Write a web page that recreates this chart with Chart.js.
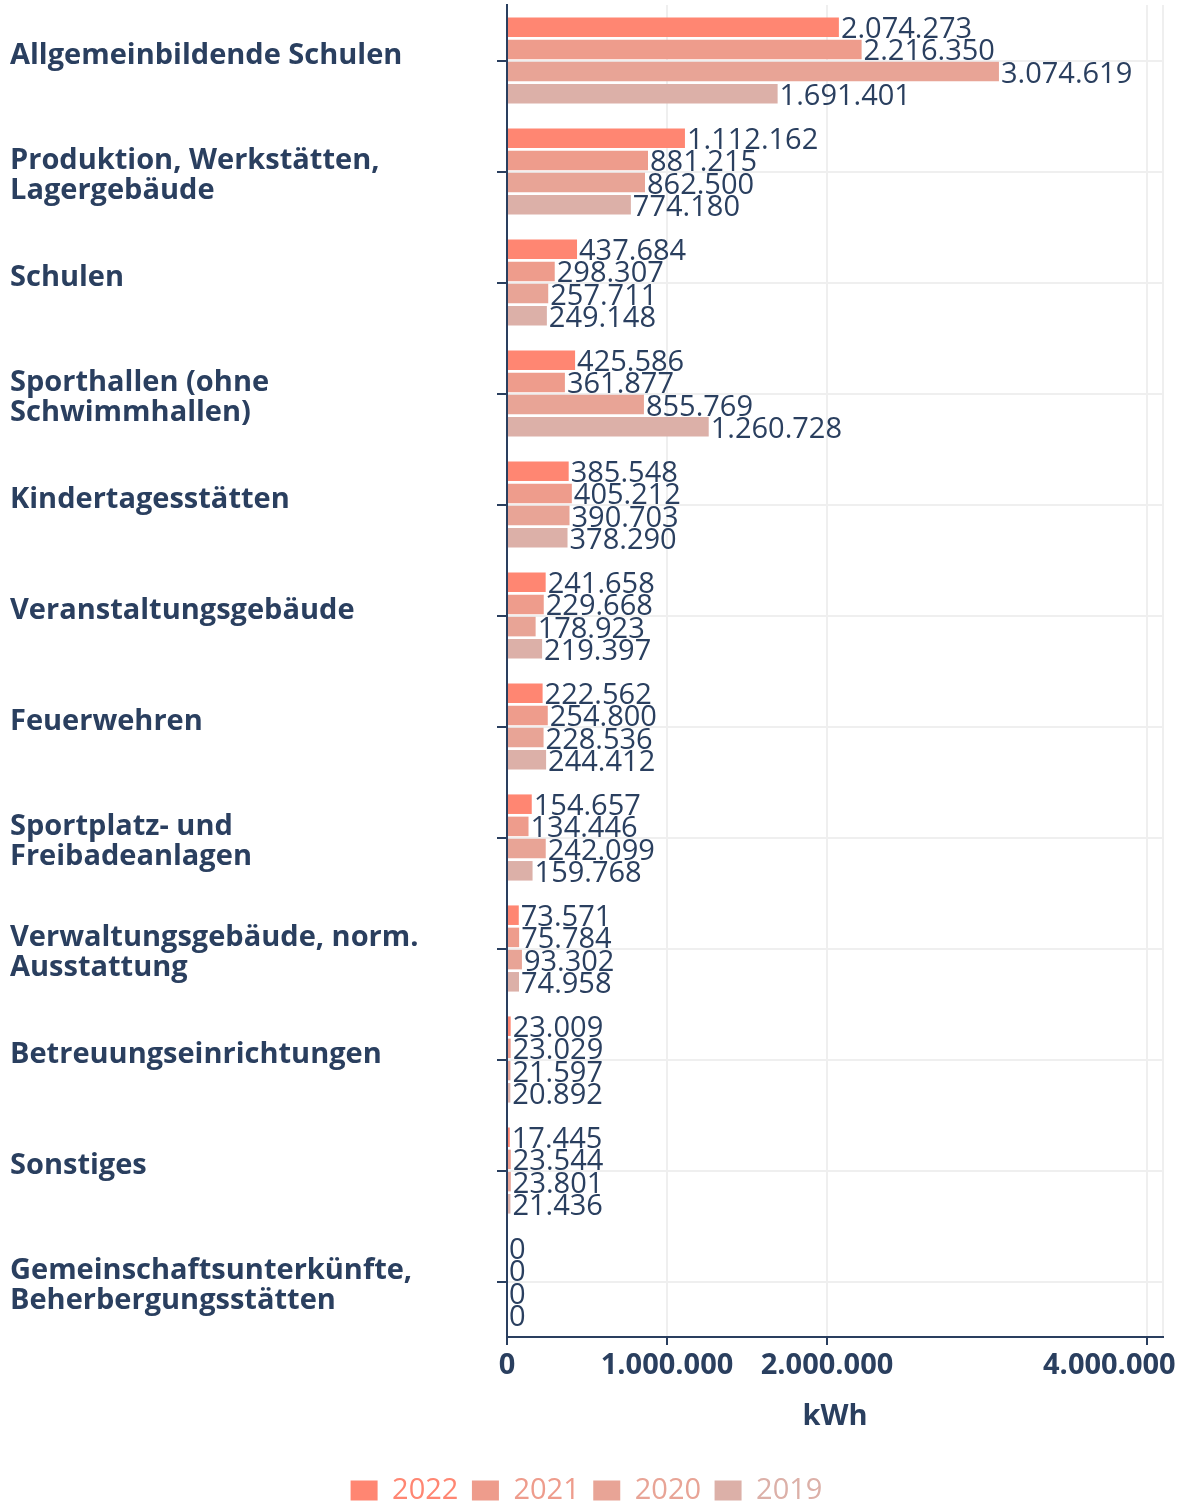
<!DOCTYPE html>
<html>
<head>
<meta charset="utf-8">
<title>Energieverbrauch nach Gebäudeart</title>
<script src="https://cdn.jsdelivr.net/npm/chart.js@4.4.0/dist/chart.umd.min.js"></script>
<style>
    html, body { margin: 0; padding: 0; background: #ffffff; }
    #wrap { width: 1185px; height: 1504px; }
</style>
</head>
<body>
<div id="wrap"><canvas id="chart" width="1185" height="1504"></canvas></div>
<script>
    // Kategorien (mehrzeilige Beschriftungen als Arrays)
    var categories = [
        'Allgemeinbildende Schulen',
        ['Produktion, Werkstätten,', 'Lagergebäude'],
        'Schulen',
        ['Sporthallen (ohne', 'Schwimmhallen)'],
        'Kindertagesstätten',
        'Veranstaltungsgebäude',
        'Feuerwehren',
        ['Sportplatz- und', 'Freibadeanlagen'],
        ['Verwaltungsgebäude, norm.', 'Ausstattung'],
        'Betreuungseinrichtungen',
        'Sonstiges',
        ['Gemeinschaftsunterkünfte,', 'Beherbergungsstätten']
    ];

    var years = ['2022', '2021', '2020', '2019'];

    var values2022 = [2074273, 1112162, 437684, 425586, 385548, 241658, 222562, 154657, 73571, 23009, 17445, 0];
    var values2021 = [2216350, 881215, 298307, 361877, 405212, 229668, 254800, 134446, 75784, 23029, 23544, 0];
    var values2020 = [3074619, 862500, 257711, 855769, 390703, 178923, 228536, 242099, 93302, 21597, 23801, 0];
    var values2019 = [1691401, 774180, 249148, 1260728, 378290, 219397, 244412, 159768, 74958, 20892, 21436, 0];

    var xTicks = [0, 1000000, 2000000, 4000000];
    var xMax = 4100000;

    var colors = ['#ff8672', '#ee9c8c', '#e8a496', '#dcb0a8'];
    var textColor = '#2a3f5f';
    var gridColor = '#efefef';
    var fontFamily = '"Open Sans", sans-serif';

    var series = [values2022, values2021, values2020, values2019];

    function formatDe(n) {
        return String(n).replace(/\B(?=(\d{3})+(?!\d))/g, '.');
    }

    // Werte rechts neben den Balken
    var valueLabels = {
        id: 'valueLabels',
        afterDatasetsDraw: function(chart) {
            var ctx = chart.ctx;
            ctx.save();
            ctx.font = '29px ' + fontFamily;
            ctx.fillStyle = textColor;
            ctx.textAlign = 'left';
            ctx.textBaseline = 'alphabetic';
            chart.data.datasets.forEach(function(ds, i) {
                chart.getDatasetMeta(i).data.forEach(function(bar, j) {
                    ctx.fillText(formatDe(ds.data[j]), bar.x + 2, bar.y + 11);
                });
            });
            ctx.restore();
        }
    };

    // einzeilige Kategorien etwas höher, zweizeilige etwas tiefer (wie im Original)
    var shiftYLabels = {
        id: 'shiftYLabels',
        beforeDraw: function(chart) {
            var items = chart.scales.y.getLabelItems();
            items.forEach(function(item) {
                if (item._shifted) {
                    return;
                }
                var lines = Array.isArray(item.label) ? item.label.length : 1;
                item.options.translation[1] += lines > 1 ? 4 : -5;
                item._shifted = true;
            });
        }
    };

    new Chart(document.getElementById('chart'), {
        type: 'bar',
        data: {
            labels: categories,
            datasets: years.map(function(year, i) {
                return {
                    label: year,
                    data: series[i],
                    backgroundColor: colors[i],
                    categoryPercentage: 0.8,
                    barPercentage: 0.88
                };
            })
        },
        options: {
            indexAxis: 'y',
            responsive: false,
            animation: false,
            devicePixelRatio: 1,
            layout: {
                padding: { left: 10, right: 22, top: 5, bottom: -11 }
            },
            plugins: {
                tooltip: { enabled: false },
                legend: {
                    position: 'bottom',
                    labels: {
                        boxWidth: 27,
                        boxHeight: 20,
                        padding: 13.5,
                        font: { family: fontFamily, size: 29 },
                        generateLabels: function(chart) {
                            return chart.data.datasets.map(function(ds, i) {
                                return {
                                    text: ds.label,
                                    fillStyle: ds.backgroundColor,
                                    strokeStyle: ds.backgroundColor,
                                    lineWidth: 0,
                                    fontColor: ds.backgroundColor,
                                    hidden: false,
                                    datasetIndex: i
                                };
                            });
                        }
                    }
                }
            },
            scales: {
                x: {
                    type: 'linear',
                    min: 0,
                    max: xMax,
                    afterBuildTicks: function(scale) {
                        scale.ticks = xTicks.concat([xMax]).map(function(v) {
                            return { value: v };
                        });
                    },
                    afterFit: function(scale) {
                        scale.height = 125.5;
                        scale.paddingLeft = 0;
                        scale.paddingRight = 0;
                    },
                    ticks: {
                        autoSkip: false,
                        maxRotation: 0,
                        padding: 3.5,
                        color: textColor,
                        font: { family: fontFamily, size: 29, weight: 'bold' },
                        callback: function(v) {
                            if (v === xMax) {
                                return '';
                            }
                            var s = formatDe(v);
                            // letzter Wert nach links gerückt wie im Original
                            if (v === 4000000) {
                                s += '          ';
                            }
                            return s;
                        }
                    },
                    grid: {
                        color: gridColor,
                        lineWidth: 2,
                        tickLength: 8,
                        tickWidth: 2,
                        tickColor: function(c) {
                            return c.tick && c.tick.value === xMax ? 'rgba(0,0,0,0)' : textColor;
                        }
                    },
                    border: { display: true, color: textColor, width: 2 },
                    title: {
                        display: true,
                        text: 'kWh',
                        color: textColor,
                        font: { family: fontFamily, size: 29, weight: 'bold' },
                        padding: { top: 0, bottom: 28 }
                    }
                },
                y: {
                    afterFit: function(scale) {
                        scale.width = 497;
                        scale.paddingTop = 0;
                        scale.paddingBottom = 0;
                    },
                    ticks: {
                        autoSkip: false,
                        crossAlign: 'far',
                        color: textColor,
                        font: { family: fontFamily, size: 29, weight: 'bold', lineHeight: 1.034 }
                    },
                    grid: {
                        offset: false,
                        color: gridColor,
                        lineWidth: 2,
                        tickLength: 10,
                        tickWidth: 2,
                        tickColor: textColor
                    },
                    border: { display: true, color: textColor, width: 2 }
                }
            }
        },
        plugins: [valueLabels, shiftYLabels]
    });
</script>
</body>
</html>
